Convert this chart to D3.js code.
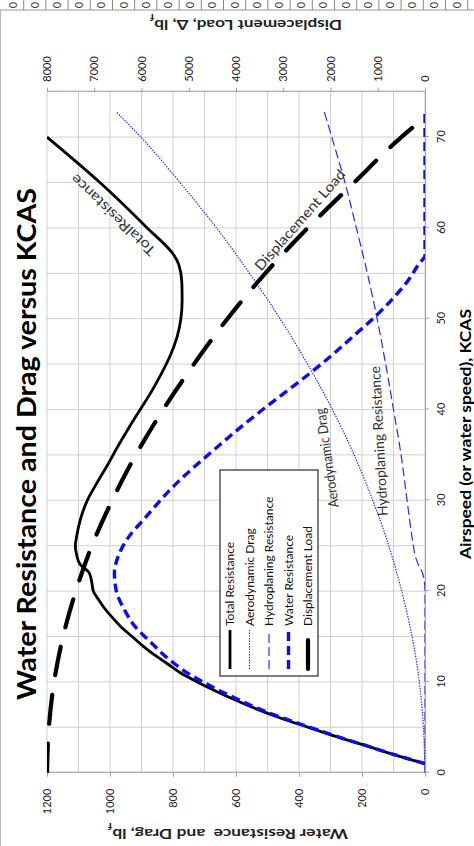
<!DOCTYPE html>
<meta charset="utf-8">
<script src="https://d3js.org/d3.v7.min.js"></script>
<style>
  body { margin: 0; background: #fff; }
  text { font-family: Lato, "Open Sans", sans-serif; }
</style>
<div id="chart"></div>
<script>

// ---- data ----
// speeds in knots, resistance in lbf, displacement in lb
var totalSpeed = [1,2,3,4,5,6,7,8,9,10,11,12,13,14,15,16,17,18,19,20,21,22,23,24,25,26,28,30,32,34,36,38,40,42,44,46,48,50,52,54,56,57,60,65,70]
var totalRes   = [0,99,190,283,370,457,534,602,665,723,777,818,860,897,930,963,990,1015,1035,1053,1058,1066,1096,1106,1110,1106,1093,1072,1040,1006,974,940,904,868,836,808,787,775,771,772,782,797,882,1032,1200]

var aeroSpeed = [0,5,10,15,20,25,30,35,40,45,50,55,60,65,70,72.8]
var aeroDrag  = [0,5,18,41,74,115,166,225,294,373,460,557,662,778,902,981]

var hydroSpeed = [0,20,21,22,23,24,25,30,35,40,45,50,55,60,65,70,72.8]
var hydroRes   = [0,0,2,8,22,32,37,57,76,100,125,152,183,218,254,296,320]

var waterSpeed = [1,2,3,4,5,6,7,8,9,10,11,12,13,14,15,16,18,20,22,24,26,28,30,32,34,36,38,40,42,44,46,48,50,52,54,56,57,65,72.8]
var waterRes   = [0,98,188,280,365,450,525,590,650,705,755,795,830,860,890,918,955,980,986,972,940,890,840,785,722,655,587,515,440,365,295,230,165,108,58,20,0,0,0]

var dispSpeed = [0,5,10,15,20,25,30,35,40,45,50,55,60,65,70,72.2]
var dispLoad  = [8000,7960,7850,7660,7390,7050,6620,6120,5540,4890,4180,3380,2480,1500,500,0]

var speedTicks = [0,10,20,30,40,50,60,70]
var leftTicks  = [0,200,400,600,800,1000,1200]
var rightTicks = [0,1000,2000,3000,4000,5000,6000,7000,8000]
var legendNames = ["Total Resistance","Aerodynamic Drag","Hydroplaning Resistance","Water Resistance","Displacement Load"]

function pairs(xs, ys) { return xs.map(function(v, i) { return [v, ys[i]] }) }

// ---- chart is drawn in a landscape frame, then turned a quarter left ----
var svg = d3.select("#chart").append("svg")
  .attr("width", 474).attr("height", 846)

svg.append("rect").attr("width", 474).attr("height", 846).attr("fill", "#fff")

var g = svg.append("g").attr("transform", "translate(0,846) rotate(-90)")

var x  = d3.scaleLinear().domain([0, 75]).range([73.3, 754.3])
var yL = d3.scaleLinear().domain([0, 1200]).range([425, 47])
var yR = d3.scaleLinear().domain([0, 8000]).range([425, 47])

// spreadsheet strip at the edge
var strip = g.append("g")
strip.append("line").attr("x1", 836).attr("x2", 836).attr("y1", 0).attr("y2", 474)
  .attr("stroke", "#999").attr("stroke-width", 1)
strip.selectAll(".sep").data(d3.range(21)).join("line")
  .attr("x1", 836).attr("x2", 846)
  .attr("y1", function(k) { return 23.7 + 22.2 * k }).attr("y2", function(k) { return 23.7 + 22.2 * k })
  .attr("stroke", "#888")
strip.selectAll(".zero").data(d3.range(21)).join("text")
  .attr("x", 841).attr("y", function(k) { return 12.7 + 22.2 * k })
  .attr("dy", "0.35em").attr("text-anchor", "middle")
  .style("font-size", "11px").attr("fill", "#4a3c28")
  .text("0")

// gridlines
g.append("g").selectAll("line").data(d3.range(0, 76, 5)).join("line")
  .attr("x1", function(d) { return x(d) }).attr("x2", function(d) { return x(d) })
  .attr("y1", yL(1200)).attr("y2", yL(0))
  .attr("stroke", "#d0d0d0").attr("stroke-width", 1)
g.append("g").selectAll("line").data(d3.range(0, 1201, 100)).join("line")
  .attr("x1", x(0)).attr("x2", x(75))
  .attr("y1", function(d) { return yL(d) }).attr("y2", function(d) { return yL(d) })
  .attr("stroke", "#d0d0d0").attr("stroke-width", 1)

// axes
function styleAxis(sel) {
  sel.attr("font-family", "Lato, 'Open Sans', sans-serif").attr("font-size", 11)
  sel.selectAll("path, line").attr("stroke", "#a0a0a0")
  sel.selectAll("text").attr("fill", "#222")
}
var fmt = d3.format("d")
g.append("g").attr("transform", "translate(0," + yL(0) + ")")
  .call(d3.axisBottom(x).tickValues(speedTicks).tickFormat(fmt).tickSize(4).tickSizeOuter(0).tickPadding(8))
  .call(styleAxis)
g.append("g").attr("transform", "translate(" + x(0) + ",0)")
  .call(d3.axisLeft(yL).tickValues(leftTicks).tickFormat(fmt).tickSize(4).tickSizeOuter(0).tickPadding(12))
  .call(styleAxis)
g.append("g").attr("transform", "translate(" + x(75) + ",0)")
  .call(d3.axisRight(yR).tickValues(rightTicks).tickFormat(fmt).tickSize(4).tickSizeOuter(0).tickPadding(6))
  .call(styleAxis)

// clip
svg.append("defs").append("clipPath").attr("id", "plotclip")
  .append("rect").attr("x", x(0)).attr("y", yL(1200))
  .attr("width", x(75) - x(0)).attr("height", yL(0) - yL(1200))

var lineL = d3.line().x(function(d) { return x(d[0]) }).y(function(d) { return yL(d[1]) }).curve(d3.curveMonotoneX)
var lineR = d3.line().x(function(d) { return x(d[0]) }).y(function(d) { return yR(d[1]) }).curve(d3.curveMonotoneX)

var styles = [
  {stroke: "#000", width: 2.8, dash: null, cap: "butt"},
  {stroke: "#2424ff", width: 1.2, dash: "1.4,1.3", cap: "butt"},
  {stroke: "#2a2aff", width: 1.2, dash: "9,4", cap: "butt"},
  {stroke: "#0a0aff", width: 3.4, dash: "9,5", cap: "butt"},
  {stroke: "#000", width: 4.2, dash: "29,20", cap: "round"}
]

var plot = g.append("g").attr("clip-path", "url(#plotclip)")
var series = [
  lineL(pairs(totalSpeed, totalRes)),
  lineL(pairs(aeroSpeed, aeroDrag)),
  lineL(pairs(hydroSpeed, hydroRes)),
  lineL(pairs(waterSpeed, waterRes)),
  lineR(pairs(dispSpeed, dispLoad))
]
series.forEach(function(p, i) {
  var s = styles[i]
  plot.append("path").attr("d", p).attr("fill", "none")
    .attr("stroke", s.stroke).attr("stroke-width", s.width)
    .attr("stroke-dasharray", s.dash).attr("stroke-linecap", s.cap)
})

// labels on the curves
var curveLabels = [
  {t: "TotalResistance", x: 631, y: 113, a: -46.5, len: 111},
  {t: "Displacement Load", x: 626, y: 300, a: 41.3, len: 129},
  {t: "Aerodynamic Drag", x: 388, y: 327, a: -8, len: 100},
  {t: "Hydroplaning Resistance", x: 405, y: 379, a: -3, len: 150}
]
curveLabels.forEach(function(l) {
  g.append("text").attr("transform", "translate(" + l.x + "," + l.y + ") rotate(" + l.a + ")")
    .attr("text-anchor", "middle").attr("dy", "0.35em")
    .style("font-size", "14px").attr("fill", "#333")
    .attr("textLength", l.len).attr("lengthAdjust", "spacingAndGlyphs")
    .text(l.t)
})

// legend
var leg = g.append("g")
leg.append("rect").attr("x", 170).attr("y", 220).attr("width", 206).attr("height", 98)
  .attr("fill", "#fff").attr("stroke", "#000").attr("stroke-width", 1)
legendNames.forEach(function(n, i) {
  var s = styles[i], yy = 230 + i * 19.5
  leg.append("line").attr("x1", 177).attr("x2", 216).attr("y1", yy).attr("y2", yy)
    .attr("stroke", s.stroke).attr("stroke-width", s.width)
    .attr("stroke-dasharray", s.dash).attr("stroke-linecap", s.cap)
  leg.append("text").attr("x", 220).attr("y", yy).attr("dy", "0.35em")
    .style("font-size", "12px").attr("fill", "#111").text(n)
})

// titles
g.append("text").attr("x", 402).attr("y", 27).attr("dy", "0.35em")
  .attr("text-anchor", "middle").style("font-size", "27px").style("font-weight", "bold")
  .attr("textLength", 512).attr("lengthAdjust", "spacingAndGlyphs")
  .text("Water Resistance and Drag versus KCAS")

g.append("text").attr("x", 412).attr("y", 471)
  .attr("text-anchor", "middle").style("font-size", "15px").style("font-weight", "bold")
  .attr("textLength", 250).attr("lengthAdjust", "spacingAndGlyphs")
  .text("Airspeed (or water speed), KCAS")

var t1 = g.append("text").attr("transform", "translate(12,228) rotate(-90)")
  .attr("text-anchor", "middle").attr("dy", "0.35em")
  .style("font-size", "13px").style("font-weight", "bold").attr("fill", "#222")
  .attr("textLength", 240).attr("lengthAdjust", "spacingAndGlyphs")
t1.append("tspan").text("Water Resistance \u00a0and Drag, lb")
t1.append("tspan").attr("baseline-shift", "sub").style("font-size", "9px").text("f")

var t2 = g.append("text").attr("transform", "translate(821,246) rotate(-90)")
  .attr("text-anchor", "middle").attr("dy", "0.35em")
  .style("font-size", "13px").style("font-weight", "bold").attr("fill", "#222")
  .attr("textLength", 192).attr("lengthAdjust", "spacingAndGlyphs")
t2.append("tspan").text("Displacement Load, \u0394, lb")
t2.append("tspan").attr("baseline-shift", "sub").style("font-size", "9px").text("f")

// left frame edge
svg.append("line").attr("x1", 0.5).attr("x2", 0.5).attr("y1", 10).attr("y2", 846)
  .attr("stroke", "#bbb")

</script>
